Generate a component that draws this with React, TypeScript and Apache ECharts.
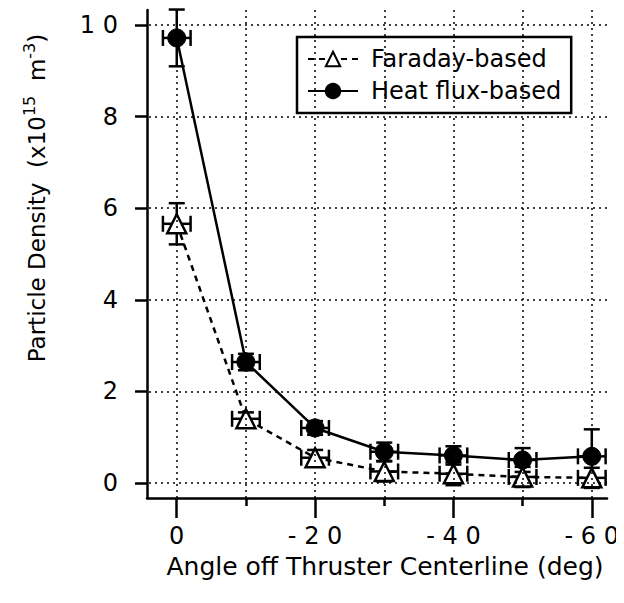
import React, { useEffect, useRef } from "react";
import * as echarts from "echarts";

const angles = [0, -10, -20, -30, -40, -50, -60];
const heatFlux = [9.72, 2.64, 1.2, 0.68, 0.6, 0.5, 0.58];
const heatFluxErr = [0.62, 0.18, 0.15, 0.2, 0.2, 0.26, 0.59];
const faraday = [5.66, 1.4, 0.55, 0.25, 0.2, 0.13, 0.11];
const faradayErr = [0.45, 0.14, 0.17, 0.22, 0.25, 0.22, 0.22];
const angleErr = [2, 2, 2, 2, 2, 2, 2];
const xMajorTicks = [0, -20, -40, -60];
const xMinorTicks = [-10, -30, -50];
const xGrid = [0, -10, -20, -30, -40, -50, -60];
const yTicks = [0, 2, 4, 6, 8, 10];

const FONT = "DejaVu Sans";
const spaced = (v: number) => String(v).split("").join(" ");

export default function App() {
  const ref = useRef<HTMLDivElement>(null);
  useEffect(() => {
    if (!ref.current) return;
    const chart = echarts.init(ref.current, null, { renderer: "svg" });
    const errData = (ys: number[], ey: number[]) =>
      angles.map((a, i) => [a, ys[i], angleErr[i], ey[i]]);
    const renderErr = (params: any, api: any) => {
      const x = api.value(0), y = api.value(1), ex = api.value(2), ey = api.value(3);
      const top = api.coord([x, y + ey]);
      const bot = api.coord([x, y - ey]);
      const l = api.coord([x + ex, y]);
      const r = api.coord([x - ex, y]);
      const cap = 8;
      const st = { stroke: "#000", lineWidth: 2.5 };
      const ln = (x1: number, y1: number, x2: number, y2: number) => ({
        type: "line", shape: { x1, y1, x2, y2 }, style: st,
      });
      return {
        type: "group",
        children: [
          ln(top[0], top[1], bot[0], bot[1]),
          ln(top[0] - cap, top[1], top[0] + cap, top[1]),
          ln(bot[0] - cap, bot[1], bot[0] + cap, bot[1]),
          ln(l[0], l[1], r[0], r[1]),
          ln(l[0], l[1] - cap, l[0], l[1] + cap),
          ln(r[0], r[1] - cap, r[0], r[1] + cap),
        ],
      };
    };
    const option: any = {
      animation: false,
      backgroundColor: "#fff",
      textStyle: { fontFamily: FONT },
      grid: { left: 147, top: 10, right: 17, bottom: 105, containLabel: false },
      legend: {
        left: 297,
        top: 37,
        orient: "vertical",
        backgroundColor: "#fff",
        borderColor: "#000",
        borderWidth: 2.5,
        borderRadius: 0,
        padding: [10, 10, 10, 10],
        itemGap: 8,
        itemWidth: 50,
        itemHeight: 18,
        textStyle: { fontFamily: FONT, fontSize: 24, color: "#000", padding: [0, 0, 0, 8] },
        data: ["Faraday-based", "Heat flux-based"],
      },
      xAxis: [
        {
          type: "value",
          inverse: true,
          min: -62.2,
          max: 4.3,
          position: "bottom",
          axisLine: { show: true, onZero: false, lineStyle: { color: "#000", width: 2.5 } },
          axisTick: { show: true, customValues: xMajorTicks, length: 20, lineStyle: { color: "#000", width: 2.5 } },
          axisLabel: {
            customValues: xMajorTicks,
            formatter: (v: number) => spaced(v),
            margin: 26,
            fontFamily: FONT,
            fontSize: 24,
            color: "#000",
          },
          splitLine: { show: false },
          name: "Angle off Thruster Centerline (deg)",
          nameLocation: "middle",
          nameGap: 56,
          nameMoveOverlap: false,
          nameTextStyle: { fontFamily: FONT, fontSize: 25, color: "#000", padding: [0, 0, 0, 16] },
        },
        {
          type: "value",
          inverse: true,
          min: -62.2,
          max: 4.3,
          position: "bottom",
          axisLine: { show: false, onZero: false },
          axisTick: { show: true, customValues: xMinorTicks, length: 8, lineStyle: { color: "#000", width: 2.5 } },
          axisLabel: { show: false },
          splitLine: { show: false },
        },
      ],
      yAxis: {
        type: "value",
        min: -0.33,
        max: 10.33,
        axisLine: { show: true, onZero: false, lineStyle: { color: "#000", width: 2.5 } },
        axisTick: { show: true, customValues: yTicks, length: 12, lineStyle: { color: "#000", width: 2.5 } },
        axisLabel: {
          customValues: yTicks,
          formatter: (v: number) => spaced(v),
          margin: 29,
          fontFamily: FONT,
          fontSize: 24,
          color: "#000",
        },
        splitLine: { show: false },
      },
      graphic: [
        {
          type: "text",
          x: 37,
          y: 198,
          rotation: Math.PI / 2,
          style: {
            text: "Particle Density  (x10{sup|15}  m{sup|-3})",
            fontFamily: FONT,
            fontSize: 23,
            fill: "#000",
            align: "center",
            verticalAlign: "middle",
            rich: {
              sup: { fontFamily: FONT, fontSize: 16, fill: "#000", padding: [0, 0, 16, 0] },
            },
          },
        },
      ],
      series: [
        {
          type: "line",
          name: "grid",
          data: [],
          silent: true,
          z: 1,
          markLine: {
            silent: true,
            symbol: "none",
            label: { show: false },
            lineStyle: { color: "#000", width: 1.5, type: [2, 4] },
            data: [
              ...xGrid.map((v) => ({ xAxis: v })),
              ...yTicks.map((v) => ({ yAxis: v })),
            ],
          },
        },
        {
          type: "custom",
          name: "errF",
          z: 3,
          renderItem: renderErr,
          data: errData(faraday, faradayErr),
        },
        {
          type: "custom",
          name: "errH",
          z: 3,
          renderItem: renderErr,
          data: errData(heatFlux, heatFluxErr),
        },
        {
          type: "line",
          name: "Faraday-based",
          z: 4,
          data: angles.map((a, i) => [a, faraday[i]]),
          symbol: "triangle",
          symbolSize: 19,
          showAllSymbol: true,
          lineStyle: { color: "#000", width: 2.5, type: [6, 5] },
          itemStyle: { color: "#fff", borderColor: "#000", borderWidth: 2.5 },
        },
        {
          type: "line",
          name: "Heat flux-based",
          z: 5,
          data: angles.map((a, i) => [a, heatFlux[i]]),
          symbol: "circle",
          symbolSize: 18,
          showAllSymbol: true,
          lineStyle: { color: "#000", width: 2.5 },
          itemStyle: { color: "#000", borderColor: "#000", borderWidth: 1 },
        },
      ],
    };
    chart.setOption(option);
    return () => chart.dispose();
  }, []);
  return <div ref={ref} style={{ width: 624, height: 603, margin: -8 }} />;
}
